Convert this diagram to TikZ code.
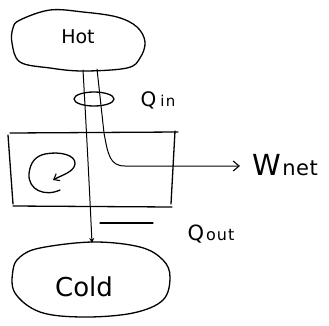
\documentclass[tikz,border=0pt]{standalone}
\usepackage{fontspec}
\setmainfont{DejaVu Sans}
\usetikzlibrary{arrows.meta}
\begin{document}
\begin{tikzpicture}[x=1pt,y=-1pt,
  line width=1.3pt, line cap=round, line join=round,
  lbl/.style={inner sep=0pt, anchor=base},
  barb/.style={-{Straight Barb[length=6pt,width=10pt,line width=1.1pt]}},
  wire/.style={line width=1pt}]
\useasboundingbox (0,0) rectangle (329,325);

% hot and cold reservoirs
\draw plot[smooth cycle, tension=0.6] coordinates {(20,20) (50,10) (83,12) (117,17) (137,27) (145,42) (140,58) (127,68) (83,71) (50,68) (20,62) (12,43) (13,28)};
\draw plot[smooth cycle, tension=0.6] coordinates {(20,257) (40,248) (93,242) (140,247) (163,260) (170,277) (163,300) (133,313) (83,317) (40,312) (15,293) (13,270)};
\node[lbl, font=\fontsize{19}{19}\selectfont] (hot) at (78,43) {Hot};
\node[lbl, font=\fontsize{26}{26}\selectfont] (cold) at (84,296) {Cold};

% engine box
\draw (10,133) -- (178,132);
\draw (8,135) -- (13,204);
\draw (175,131) -- (171,204);
\draw (13,206) -- (172,207);

% cycle inside the engine
\draw[-{Straight Barb[length=5pt,width=8pt,line width=1.1pt]}]
  (60,190) .. controls (45,197) and (28,190) .. (29,174)
  .. controls (30,162) and (36,156) .. (45,154)
  .. controls (60,151) and (76,155) .. (75,164)
  .. controls (74,172) and (62,175) .. (53,180);

% heat and work paths
\coordinate (hotL) at (83,70);
\coordinate (hotR) at (97,69);
\coordinate (coldT) at (92,243);
\coordinate (wtip) at (240,166);
\draw[wire, -{Stealth[length=5pt,width=5pt]}] (hotL) .. controls (87,140) and (90,200) .. (coldT);
\draw[wire, barb] (hotR) -- (104,133) .. controls (108,155) and (110,166) .. (125,166) -- (wtip);

% heat-in ring
\draw (94,99) ellipse [x radius=20, y radius=7];

% heat-out bar
\draw (100,223) -- (153,223);

% labels
\node[lbl, font=\fontsize{20}{20}\selectfont] (qin) at (158,106) {Q\hspace{4pt}{\fontsize{15}{15}\selectfont i\hspace{1.5pt}n}};
\node[lbl, font=\fontsize{21}{21}\selectfont] (qout) at (211,240) {Q\hspace{2pt}{\fontsize{16}{16}\selectfont o\hspace{1pt}u\hspace{1pt}t}};
\node[lbl, font=\fontsize{29}{29}\selectfont, anchor=base west] (wnet) at (252,175) {W\hspace{1pt}{\fontsize{21}{21}\selectfont n\hspace{0.5pt}e\hspace{0.5pt}t}};
\end{tikzpicture}
\end{document}
